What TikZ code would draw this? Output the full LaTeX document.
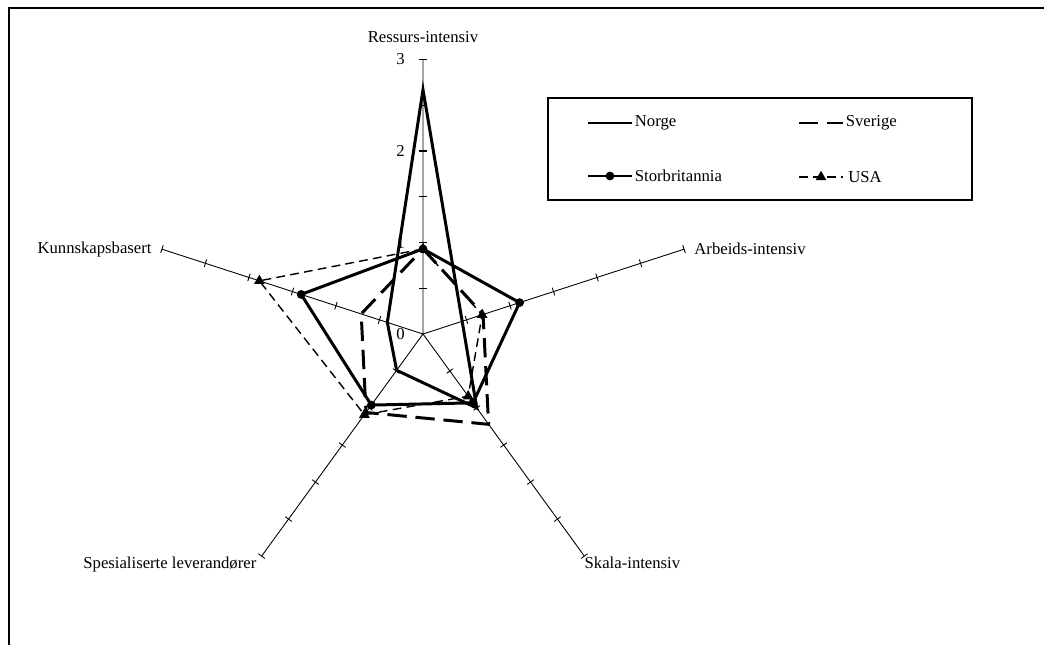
\documentclass[tikz,border=0pt]{standalone}
\usepackage{fontspec}
\setmainfont{Liberation Serif}
\usetikzlibrary{arrows.meta,positioning,calc,shapes.geometric}

\newcommand{\rstep}{91.5}

\begin{document}
\begin{tikzpicture}[x=0.2mm, y=0.2mm, font=\fontsize{9.5}{11}\selectfont,
    axis/.style={line width=0.5pt},
    norge/.style={line width=1.7pt, line join=miter},
    sverige/.style={line width=1.7pt, dash pattern=on 11pt off 5pt},
    storbr/.style={line width=1.7pt, line join=miter},
    usa/.style={line width=0.8pt, dash pattern=on 5pt off 3pt},
    dot/.style={circle, fill, inner sep=0pt, minimum size=5pt},
    tri/.style={regular polygon, regular polygon sides=3, fill, inner sep=0pt, minimum size=7pt},
    axlabel/.style={inner sep=0pt}]

    % Frame
    \useasboundingbox (-423,-310) rectangle (621,334);
    \clip (-423,-310) rectangle (621,334);
    \draw[line width=1pt] (-414,326) rectangle (700,-400);

    % Axes
    \coordinate (O) at (0,0);
    \coordinate (Res) at (90:3*\rstep);
    \coordinate (Arb) at (18:3*\rstep);
    \coordinate (Ska) at (-54:3*\rstep);
    \coordinate (Spe) at (-126:3*\rstep);
    \coordinate (Kun) at (162:3*\rstep);
    \draw[axis] (O) -- (Res) (O) -- (Arb) (O) -- (Ska) (O) -- (Spe) (O) -- (Kun);
    \foreach \a in {18,-54,-126,162}
        \foreach \v in {0.5,1,...,3}
            \draw[axis] (\a:\v*\rstep) ++(\a+90:4) -- ++(\a-90:8);
    \foreach \v in {0.5,1,...,3}
        \draw[line width=0.8pt] (-4,\v*\rstep) -- (4,\v*\rstep);

    % Axis labels
    \node[axlabel, above=0.32cm of Res] (lRes) {Ressurs-intensiv};
    \node[axlabel, right=0.2cm of Arb] (lArb) {Arbeids-intensiv};
    \node[axlabel, anchor=north west] (lSka) at (Ska) {Skala-intensiv};
    \node[axlabel, anchor=north east, xshift=-0.1cm] (lSpe) at (Spe) {Spesialiserte leverandører};
    \node[axlabel, left=0.2cm of Kun] (lKun) {Kunnskapsbasert};

    % Scale
    \foreach \v in {0,1,2,3}
        \node[axlabel, anchor=east] (s\v) at (-18,\v*\rstep) {\v};

    % Data points
    \foreach \v [count=\i] in {2.67,0.45,1.00,0.49,0.41}
        \coordinate (N\i) at ({162-72*\i}:{\v*\rstep});
    \foreach \v [count=\i] in {0.93,0.69,1.22,1.06,0.71}
        \coordinate (W\i) at ({162-72*\i}:{\v*\rstep});
    \foreach \v [count=\i] in {0.93,1.11,0.93,0.96,1.40}
        \coordinate (B\i) at ({162-72*\i}:{\v*\rstep});
    \foreach \v [count=\i] in {0.93,0.68,0.84,1.09,1.88}
        \coordinate (U\i) at ({162-72*\i}:{\v*\rstep});

    % Series
    \draw[usa] (U1) -- (U2) -- (U3) -- (U4) -- (U5) -- cycle;
    \foreach \i in {1,...,5}
        \node[tri] (Um\i) at (U\i) {};
    \draw[sverige] (W1) -- (W2) -- (W3) -- (W4) -- (W5) -- cycle;
    \draw[norge] (N1) -- (N2) -- (N3) -- (N4) -- (N5) -- cycle;
    \draw[storbr] (B1) -- (B2) -- (B3) -- (B4) -- (B5) -- cycle;
    \foreach \i in {1,...,5}
        \node[dot] (Bm\i) at (B\i) {};

    % Legend
    \draw[line width=0.6pt] (125,236) rectangle (549,134);
    \coordinate (lgN1) at (165,211);
    \coordinate (lgN2) at (209,211);
    \coordinate (lgW1) at (376,211);
    \coordinate (lgW2) at (420,211);
    \coordinate (lgB1) at (165,158);
    \coordinate (lgB2) at (209,158);
    \coordinate (lgU1) at (376,157);
    \coordinate (lgU2) at (420,157);
    \draw[norge] (lgN1) -- (lgN2);
    \draw[sverige] (lgW1) -- (lgW2);
    \draw[storbr] (lgB1) -- (lgB2);
    \draw[usa] (lgU1) -- (lgU2);
    \node[dot] (lgBm) at ($(lgB1)!0.5!(lgB2)$) {};
    \node[tri] (lgUm) at ($(lgU1)!0.5!(lgU2)$) {};
    \node[axlabel, right=0.05cm of lgN2] (lgNt) {Norge};
    \node[axlabel, right=0.05cm of lgW2] (lgWt) {Sverige};
    \node[axlabel, right=0.05cm of lgB2] (lgBt) {Storbritannia};
    \node[axlabel, right=0.1cm of lgU2] (lgUt) {USA};

\end{tikzpicture}
\end{document}
